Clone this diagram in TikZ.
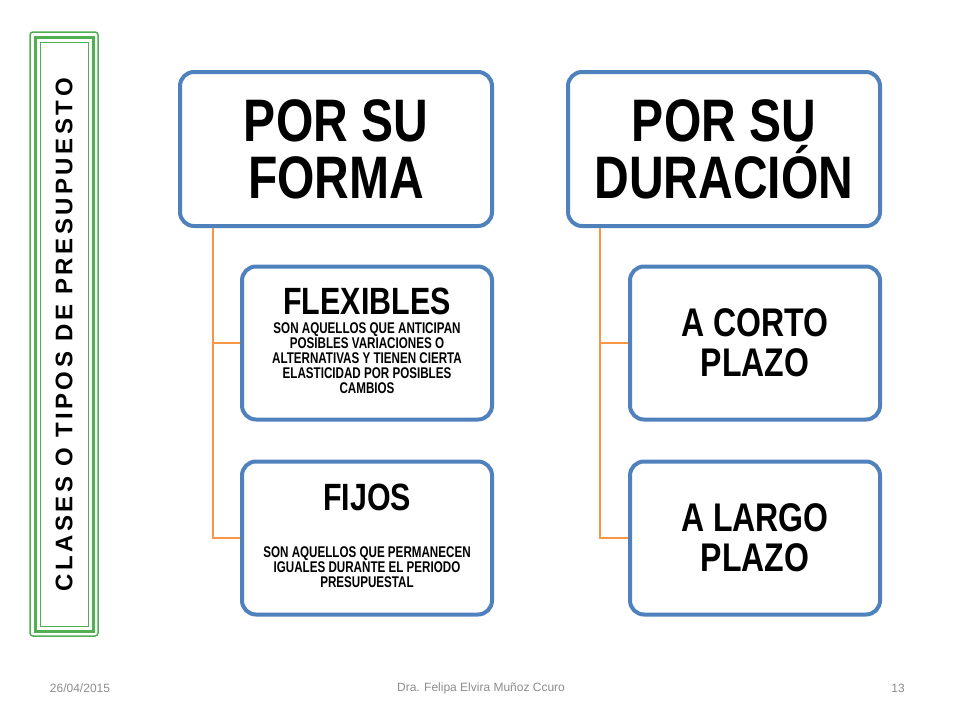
\documentclass[tikz,border=0pt]{standalone}
\usepackage{fontspec}
\setmainfont{Liberation Sans}
\newfontfamily\cond[FakeStretch=0.8]{Liberation Sans}
\newfontfamily\narrow[FakeStretch=0.75]{Liberation Sans}
\usetikzlibrary{positioning}
\definecolor{boxblue}{RGB}{79,129,189}
\definecolor{linkorange}{RGB}{247,150,70}
\definecolor{framegreen}{RGB}{80,175,80}
\tikzstyle{head} = [rectangle, rounded corners=14pt, line width=4pt, draw=boxblue, fill=white, minimum width=312pt, minimum height=154pt, align=center, font=\cond\bfseries\fontsize{60}{57}\selectfont]
\tikzstyle{item} = [rectangle, rounded corners=14pt, line width=4pt, draw=boxblue, fill=white, minimum width=250pt, minimum height=153pt, align=center, font=\cond\bfseries\fontsize{40}{40}\selectfont]
\tikzstyle{link} = [line width=2pt, draw=linkorange]
\tikzstyle{foot} = [font=\fontsize{12}{14}\selectfont, text=black!45]
\newcommand{\smalltext}[2][0pt]{{\narrow\fontsize{15.5}{14}\selectfont\begin{tabular}[b]{@{}c@{}}\rule{0pt}{#1}#2\end{tabular}}}

\begin{document}
\begin{tikzpicture}[x=1pt, y=-1pt]
	\useasboundingbox (0,0) rectangle (960,720);
	% left frame
	\draw[framegreen, line width=1.5pt, rounded corners=3pt] (30,32) rectangle (98,636);
	\draw[framegreen, line width=3pt] (35,37) rectangle (93,631);
	\draw[framegreen, line width=1pt] (40,42) rectangle (88,626);
	\node (titletext) [rotate=90, font=\bfseries\fontsize{24}{24}\selectfont] at (64,335) {C\kern3.5pt L\kern3.5pt A\kern3.5pt S\kern3.5pt E\kern3.5pt S\kern3.5pt\ O\kern3.5pt\ T\kern3.5pt I\kern3.5pt P\kern3.5pt O\kern3.5pt S\kern3.5pt\ D\kern3.5pt E\kern3.5pt\ P\kern3.5pt R\kern3.5pt E\kern3.5pt S\kern3.5pt U\kern3.5pt P\kern3.5pt U\kern3.5pt E\kern3.5pt S\kern3.5pt T\kern3.5pt O};

	\node (forma) [head] at (336,149) {POR SU\\FORMA};
	\node (flex) [item] at (367,343) {{\fontsize{38}{38}\selectfont FLEXIBLES}\\
		\smalltext[18pt]{SON AQUELLOS QUE ANTICIPAN\\POSIBLES VARIACIONES O\\ALTERNATIVAS Y TIENEN CIERTA\\ELASTICIDAD POR POSIBLES\\CAMBIOS}};
	\node (fijos) [item] at (367,538) {{\fontsize{38}{38}\selectfont FIJOS}\\
		\smalltext[46pt]{SON AQUELLOS QUE PERMANECEN\\IGUALES DURANTE EL PERIODO\\PRESUPUESTAL}};

	\node (duracion) [head] at (724,149) {POR SU\\DURACIÓN};
	\node (corto) [item] at (755,343) {A CORTO\\PLAZO};
	\node (largo) [item] at (755,538) {A LARGO\\PLAZO};

	\draw [link] ([xshift=-123pt]forma.south) |- (flex.west);
	\draw [link] ([xshift=-123pt]forma.south) |- (fijos.west);
	\draw [link] ([xshift=-124pt]duracion.south) |- (corto.west);
	\draw [link] ([xshift=-124pt]duracion.south) |- (largo.west);

	\node (fecha) [foot] at (80,688) {26/04/2015};
	\node (autor) [foot] at (481,688) {Dra. Felipa  Elvira Muñoz Ccuro};
	\node (pagina) [foot] at (898,688) {13};
\end{tikzpicture}
\end{document}
